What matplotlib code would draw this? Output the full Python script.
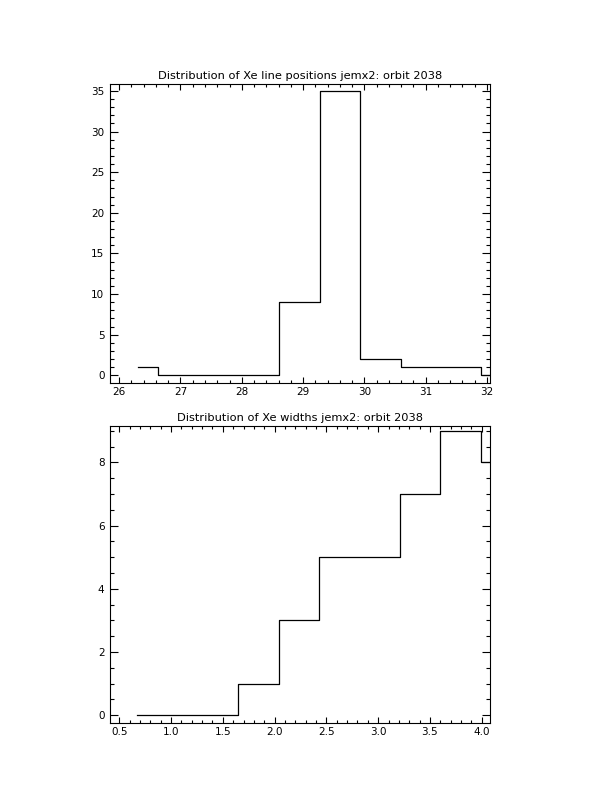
import matplotlib
matplotlib.use("Agg")
import matplotlib.pyplot as plt
from matplotlib.ticker import MultipleLocator

# Histogram of Xe line positions (bin centres and counts)
pos_centres = [26.30, 26.96, 27.62, 28.28, 28.94, 29.60, 30.26, 30.92, 31.58, 32.24]
pos_counts = [1, 0, 0, 0, 9, 35, 2, 1, 1, 0]

# Histogram of Xe widths (bin centres and counts)
width_centres = [0.674, 1.064, 1.454, 1.844, 2.234, 2.624, 3.014, 3.404, 3.794, 4.184]
width_counts = [0, 0, 0, 1, 3, 5, 5, 7, 9, 8]

title_pos = "Distribution of Xe line positions jemx2: orbit 2038"
title_width = "Distribution of Xe widths jemx2: orbit 2038"

plt.rcParams['font.family'] = ['DejaVu Sans']
plt.rcParams['font.size'] = 7.5

fig = plt.figure(figsize=(6.12, 7.92), dpi=100)
ax1 = fig.add_axes([0.1797, 0.5164, 0.621, 0.3775])
ax2 = fig.add_axes([0.1797, 0.0871, 0.621, 0.375])


def style_axis(ax, xmaj, xmin, ymaj, ymin):
    for s in ax.spines.values():
        s.set_linewidth(0.8)
    ax.xaxis.set_major_locator(MultipleLocator(xmaj))
    ax.xaxis.set_minor_locator(MultipleLocator(xmin))
    ax.yaxis.set_major_locator(MultipleLocator(ymaj))
    ax.yaxis.set_minor_locator(MultipleLocator(ymin))
    ax.tick_params(axis='x', which='major', direction='in', top=True, length=4.3, width=0.8, pad=3)
    ax.tick_params(axis='x', which='minor', direction='in', top=True, length=2.2, width=0.8)
    ax.tick_params(axis='y', which='major', direction='in', right=True, length=5.5, width=0.8, pad=4)
    ax.tick_params(axis='y', which='minor', direction='in', right=True, length=2.7, width=0.8)


# Top panel: line positions
ax1.plot(pos_centres, pos_counts, drawstyle='steps-mid', color='black', linewidth=0.9)
ax1.set_xlim(25.85, 32.05)
ax1.set_ylim(-0.95, 35.85)
style_axis(ax1, 1, 0.2, 5, 1)
ax1.set_title(title_pos, fontsize=8.2, pad=3.5)

# Bottom panel: widths
ax2.plot(width_centres, width_counts, drawstyle='steps-mid', color='black', linewidth=0.9)
ax2.set_xlim(0.41, 4.08)
ax2.set_ylim(-0.25, 9.15)
style_axis(ax2, 0.5, 0.1, 2, 0.5)
ax2.xaxis.set_major_formatter(plt.FormatStrFormatter('%.1f'))
ax2.set_title(title_width, fontsize=8.2, pad=3.5)

fig.savefig("out.png", dpi=100)
